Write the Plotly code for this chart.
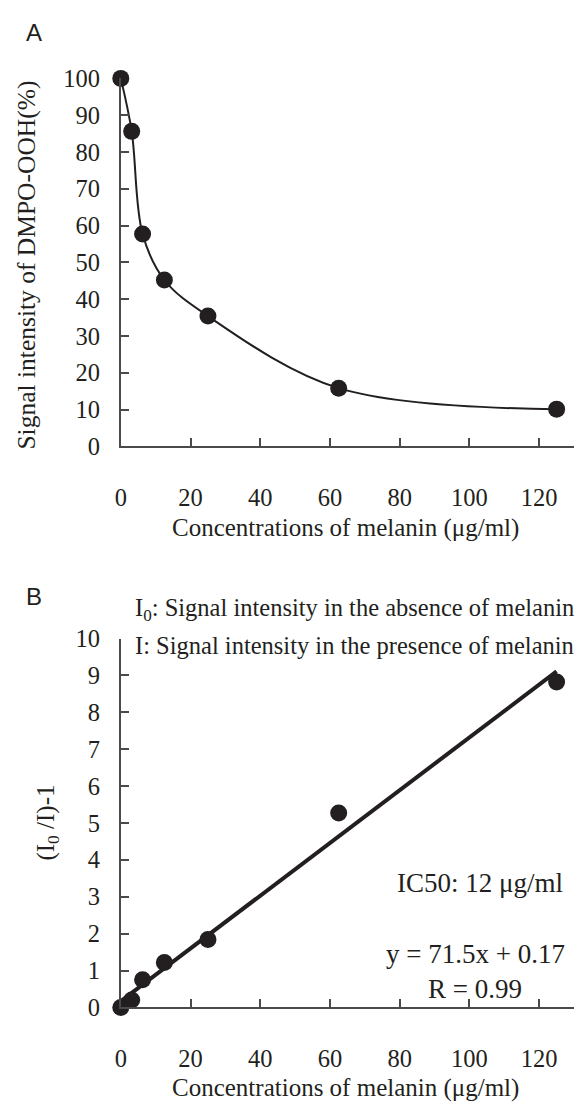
import plotly.graph_objects as go

# ---- data ----
conc = [0, 3.125, 6.25, 12.5, 25, 62.5, 125]              # μg/ml
signal_pct = [100, 85.6, 57.7, 45.2, 35.4, 15.8, 10.1]    # Signal intensity of DMPO-OOH (%)
ratio_m1 = [0, 0.2, 0.75, 1.22, 1.84, 5.27, 8.82]          # (I0/I)-1
fit_slope = 71.5 / 1000.0   # per μg/ml (equation given in mg/ml)
fit_intercept = 0.17
fit_x = [min(conc), max(conc)]
fit_y = [fit_slope * v + fit_intercept for v in fit_x]

x_ticks = [0, 20, 40, 60, 80, 100, 120]
yA_ticks = [0, 10, 20, 30, 40, 50, 60, 70, 80, 90, 100]
yB_ticks = list(range(0, 11))

W, H = 577, 1120
SERIF = "Liberation Serif, Times New Roman, serif"
SANS = "Liberation Sans, Arial, sans-serif"
INK = "#231f20"
AX = "#4a4a4a"
FS_TICK = 24.5
FS = 25

def px_x(p):
    return p / W

def px_y(p):
    return 1 - p / H

fig = go.Figure()

fig.add_trace(go.Scatter(
    x=conc, y=signal_pct, mode="lines+markers",
    line=dict(color=INK, width=2, shape="spline", smoothing=1.0),
    marker=dict(color=INK, size=17),
    cliponaxis=False, xaxis="x", yaxis="y", showlegend=False))

fig.add_trace(go.Scatter(
    x=fit_x, y=fit_y, mode="lines",
    line=dict(color=INK, width=4),
    cliponaxis=False, xaxis="x2", yaxis="y2", showlegend=False))
fig.add_trace(go.Scatter(
    x=conc, y=ratio_m1, mode="markers",
    marker=dict(color=INK, size=17),
    cliponaxis=False, xaxis="x2", yaxis="y2", showlegend=False))

xdom = [px_x(116), px_x(574)]
axis_common = dict(showgrid=False, zeroline=False, showline=True, linecolor=AX,
                   linewidth=2, ticks="inside", ticklen=8, tickwidth=2, tickcolor=AX,
                   tickfont=dict(family=SERIF, size=FS_TICK, color=INK))

fig.update_layout(
    width=W, height=H, margin=dict(l=0, r=0, t=0, b=0),
    paper_bgcolor="white", plot_bgcolor="white",
    xaxis=dict(domain=xdom, range=[0, 130], tickvals=x_ticks, anchor="y",
               ticklabelstandoff=28, **axis_common),
    yaxis=dict(domain=[px_y(444), px_y(67)], range=[0, 100], tickvals=yA_ticks,
               anchor="x", ticklabelstandoff=14, **axis_common),
    xaxis2=dict(domain=xdom, range=[0, 130], tickvals=x_ticks, anchor="y2",
                ticklabelstandoff=28, **axis_common),
    yaxis2=dict(domain=[px_y(1019), px_y(641)], range=[0, 10], tickvals=yB_ticks,
                anchor="x2", ticklabelstandoff=14, **axis_common),
)

ann = []
def add(text, x, y, size=FS, family=SERIF, angle=0, xanchor="center", yanchor="middle"):
    ann.append(dict(text=text, x=px_x(x), y=px_y(y), xref="paper", yref="paper",
                    showarrow=False, textangle=angle, xanchor=xanchor, yanchor=yanchor,
                    font=dict(family=family, size=size, color=INK)))

add("A", 28, 20, size=24, family=SANS)
add("B", 28, 598, size=24, family=SANS)
add("Signal intensity of DMPO-OOH(%)", 21, 258, size=25.5, angle=-90)
add("Concentrations of melanin (μg/ml)", 343, 528)
add("Concentrations of melanin (μg/ml)", 343, 1102)
add("(I<sub>0</sub> /I)-1", 42, 830, angle=-90)
add("I<sub>0</sub>: Signal intensity in the absence of melanin", 576, 611, size=24.5, xanchor="right")
add("I: Signal intensity in the presence of melanin", 576, 648, size=24.5, xanchor="right")
add("IC50: 12 μg/ml", 565, 891, size=27, xanchor="right")
add("y = 71.5x + 0.17", 567, 964, size=27, xanchor="right")
add("R = 0.99", 474, 1000, size=27)
fig.update_layout(annotations=ann)

fig.write_html("out.html", config={"displayModeBar": False},
               post_script="document.body.style.margin='0';document.body.style.padding='0';")
